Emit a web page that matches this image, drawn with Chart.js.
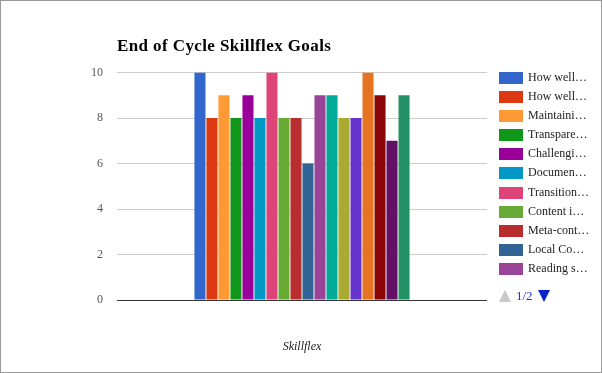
<!DOCTYPE html>
<html>
<head>
<meta charset="utf-8">
<script src="https://cdn.jsdelivr.net/npm/chart.js@4"></script>
<style>
  html, body { margin: 0; padding: 0; background: #fff; }
  #wrap { position: relative; width: 602px; height: 373px; overflow: hidden; }
  #frame { position: absolute; left: 0; top: 0; width: 600px; height: 371px; border: 1px solid #9a9a9a; pointer-events: none; }
  #title { position: absolute; left: 117px; top: 36px; font: bold 17px "Liberation Serif", "DejaVu Serif", serif; letter-spacing: 0.4px; color: #000; white-space: nowrap; }
  #legend { position: absolute; left: 499px; top: 72px; font: 12px "Liberation Serif", "DejaVu Serif", serif; color: #222; }
  .item { position: relative; height: 19.1px; white-space: nowrap; }
  .box { position: absolute; left: 0; top: 0; width: 24px; height: 12px; }
  .lab { position: absolute; left: 29px; top: -2px; line-height: 15px; }
  #pager { position: absolute; left: 499px; top: 287px; font: 13px "Liberation Serif", "DejaVu Serif", serif; color: #2233cc; white-space: nowrap; }
  .tri { display: inline-block; width: 0; height: 0; border-left: 6px solid transparent; border-right: 6px solid transparent; vertical-align: middle; }
</style>
</head>
<body>
<div id="wrap">
  <canvas id="c" width="602" height="373"></canvas>
  <div id="title"></div>
  <div id="legend"></div>
  <div id="pager"><span class="tri" style="border-bottom:12px solid #c8c8c8;"></span><span style="margin:0 5px 0 5px;vertical-align:middle;">1/2</span><span class="tri" style="border-top:12px solid #0b22c8;"></span></div>
  <div id="frame"></div>
</div>
<script>
const chartTitle = "End of Cycle Skillflex Goals";
const categories = ["Skillflex"];
const seriesLabels = [
  "How well…", "How well…", "Maintaini…", "Transpare…", "Challengi…", "Documen…",
  "Transition…", "Content i…", "Meta-cont…", "Local Co…", "Reading s…",
  "Series 12", "Series 13", "Series 14", "Series 15", "Series 16", "Series 17", "Series 18"
];
const seriesValues = [10, 8, 9, 8, 9, 8, 10, 8, 8, 6, 9, 9, 8, 8, 10, 9, 7, 9];
const seriesColors = [
  "#3366cc", "#dc3912", "#ff9933", "#109618", "#990099", "#0099c6",
  "#dd4477", "#66aa33", "#b82e2e", "#316395", "#994499", "#00aa99",
  "#aaaa33", "#6633cc", "#e67322", "#8b0707", "#651067", "#229266"
];
const yTicks = [0, 2, 4, 6, 8, 10];
const legendVisibleCount = 11;

document.getElementById('title').textContent = chartTitle;

const datasets = seriesValues.map((v, i) => ({
  label: seriesLabels[i],
  data: [v],
  backgroundColor: seriesColors[i],
  borderWidth: 0,
  categoryPercentage: 0.584,
  barPercentage: 0.92
}));

const legend = document.getElementById('legend');
for (let i = 0; i < legendVisibleCount; i++) {
  const it = document.createElement('div');
  it.className = 'item';
  const b = document.createElement('div');
  b.className = 'box';
  b.style.background = seriesColors[i];
  const l = document.createElement('div');
  l.className = 'lab';
  l.textContent = seriesLabels[i];
  it.appendChild(b); it.appendChild(l);
  legend.appendChild(it);
}

new Chart(document.getElementById('c'), {
  type: 'bar',
  data: { labels: categories, datasets },
  options: {
    responsive: false,
    animation: false,
    layout: { padding: { left: 0, right: 115, top: 72.5, bottom: 0 } },
    plugins: { legend: { display: false }, tooltip: { enabled: false }, title: { display: false } },
    scales: {
      x: {
        ticks: { display: false },
        grid: { display: false, drawTicks: false },
        border: { display: false },
        title: {
          display: true,
          text: categories[0],
          font: { family: "Liberation Serif", size: 12, style: 'italic' },
          color: '#222',
          padding: { top: 0, bottom: 19 }
        },
        afterFit: (s) => { s.height = 73; }
      },
      y: {
        min: 0, max: 10,
        afterBuildTicks: (s) => { s.ticks = yTicks.map(v => ({ value: v })); },
        ticks: {
          font: { family: "Liberation Serif", size: 12 },
          color: '#555',
          padding: 14
        },
        grid: {
          drawTicks: false,
          color: (ctx) => ctx.tick && ctx.tick.value === 0 ? '#333' : '#cccccc',
          lineWidth: 1
        },
        border: { display: false },
        afterFit: (s) => { s.width = 117; }
      }
    }
  }
});
</script>
</body>
</html>
